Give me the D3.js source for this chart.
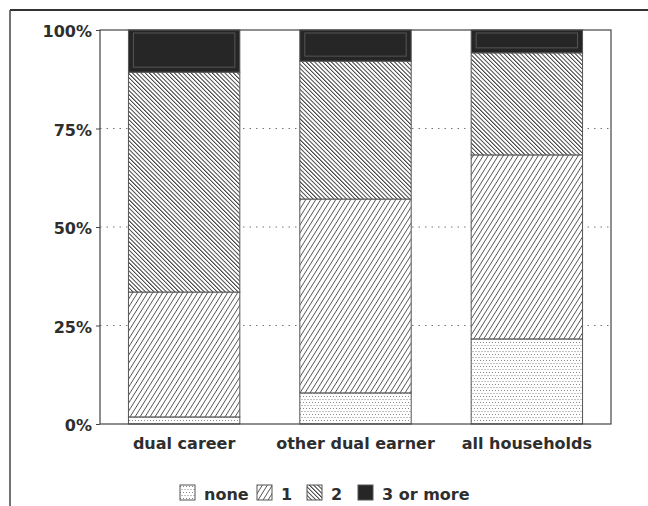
<!DOCTYPE html>
<html><head><meta charset="utf-8">
<script src="https://cdn.jsdelivr.net/npm/d3@7/dist/d3.min.js"></script>
<style>body{margin:0;background:#fff}svg{display:block}text{font-family:"DejaVu Sans",sans-serif;font-weight:bold;fill:#2e2e2e}</style>
</head><body>
<svg id="c" width="648" height="506"></svg>
<script>
const categories = ["dual career", "other dual earner", "all households"];
const seriesNames = ["none", "1", "2", "3 or more"];
const none = [1.8, 7.9, 21.6];
const one = [31.7, 49.2, 46.7];
const two = [55.8, 35.0, 25.9];
const threeOrMore = [10.7, 7.9, 5.8];
const yTicks = [0, 25, 50, 75, 100];
const yTickLabels = ["0%", "25%", "50%", "75%", "100%"];

const svg = d3.select("#c");
const defs = svg.append("defs");

// patterns
const pNone = defs.append("pattern").attr("id","pNone").attr("patternUnits","userSpaceOnUse").attr("width",6).attr("height",6);
pNone.append("rect").attr("width",6).attr("height",6).attr("fill","#fff");
[[0,0],[3,0],[1.5,3],[4.5,3]].forEach(([x,y])=>pNone.append("rect").attr("x",x).attr("y",y).attr("width",1).attr("height",1).attr("fill","#888"));

const p1 = defs.append("pattern").attr("id","p1").attr("patternUnits","userSpaceOnUse").attr("width",5).attr("height",8).attr("patternTransform","skewX(-32)");
p1.append("rect").attr("width",5).attr("height",8).attr("fill","#fff");
p1.append("line").attr("x1",0.5).attr("y1",0).attr("x2",0.5).attr("y2",8).attr("stroke","#555").attr("stroke-width",1);

const p2 = defs.append("pattern").attr("id","p2").attr("patternUnits","userSpaceOnUse").attr("width",4.2).attr("height",8).attr("patternTransform","skewX(45)");
p2.append("rect").attr("width",4.2).attr("height",8).attr("fill","#fff");
p2.append("line").attr("x1",0.7).attr("y1",0).attr("x2",0.7).attr("y2",8).attr("stroke","#333").attr("stroke-width",1.3);

const fills = ["url(#pNone)", "url(#p1)", "url(#p2)", "#262626"];

// outer frame
svg.append("line").attr("x1",10).attr("y1",10).attr("x2",648).attr("y2",10).attr("stroke","#333").attr("stroke-width",2);
svg.append("line").attr("x1",10).attr("y1",10).attr("x2",10).attr("y2",506).attr("stroke","#444").attr("stroke-width",1.5);

const L = 100, R = 611, T = 30, B = 424;
const x = d3.scaleBand().domain(categories).range([L, R]).paddingInner(0.35).paddingOuter(0.166);
const y = d3.scaleLinear().domain([0, 100]).range([B, T]);

// gridlines
svg.append("g").selectAll("line").data(yTicks.filter(t=>t>0&&t<100)).join("line")
  .attr("x1",L).attr("x2",R).attr("y1",d=>y(d)).attr("y2",d=>y(d))
  .attr("stroke","#777").attr("stroke-width",1).attr("stroke-dasharray","1.5,5");

// stack
const rows = categories.map((c,i)=>({cat:c, "none":none[i], "1":one[i], "2":two[i], "3 or more":threeOrMore[i]}));
const stack = d3.stack().keys(seriesNames)(rows);
const gBars = svg.append("g");
stack.forEach((s,k)=>{
  gBars.append("g").selectAll("rect").data(s).join("rect")
    .attr("x",d=>x(d.data.cat)).attr("width",x.bandwidth())
    .attr("y",d=>y(Math.min(d[1],100))).attr("height",d=>y(d[0])-y(Math.min(d[1],100)))
    .attr("fill",fills[k]).attr("stroke","#555").attr("stroke-width",1);
  if(k===3){
    gBars.append("g").selectAll("rect").data(s).join("rect")
      .attr("x",d=>x(d.data.cat)+5).attr("width",x.bandwidth()-10)
      .attr("y",d=>y(100)+3).attr("height",d=>Math.max(0,y(d[0])-y(100)-8))
      .attr("fill","none").attr("stroke","#555").attr("stroke-width",1);
  }
});

// plot frame
svg.append("rect").attr("x",L).attr("y",T).attr("width",R-L).attr("height",B-T).attr("fill","none").attr("stroke","#444").attr("stroke-width",1.2);

// y axis
const yAxis = d3.axisLeft(y).tickValues(yTicks).tickFormat((d,i)=>yTickLabels[i]).tickSize(4).tickPadding(4);
const gy = svg.append("g").attr("transform",`translate(${L},0)`).call(yAxis);
gy.select(".domain").remove();
gy.selectAll(".tick line").attr("stroke","#444");
gy.selectAll(".tick text").attr("font-size",16).attr("fill","#2e2e2e").attr("dy","0.42em")
  .style("font-family","'DejaVu Sans',sans-serif").style("font-weight","bold");

// x axis labels
const xAxis = d3.axisBottom(x).tickSize(0).tickPadding(14);
const gx = svg.append("g").attr("transform",`translate(0,${B})`).call(xAxis);
gx.select(".domain").remove();
gx.selectAll(".tick text").attr("font-size",16).attr("fill","#2e2e2e")
  .style("font-family","'DejaVu Sans',sans-serif").style("font-weight","bold");

// legend
const legendX = [180, 257, 307, 358];
const lg = svg.append("g");
seriesNames.forEach((n,k)=>{
  lg.append("rect").attr("x",legendX[k]).attr("y",485).attr("width",15).attr("height",15)
    .attr("fill",fills[k]).attr("stroke","#555").attr("stroke-width",1);
  lg.append("text").attr("x",legendX[k]+24).attr("y",500).attr("font-size",16).text(n);
});
</script>
</body></html>
